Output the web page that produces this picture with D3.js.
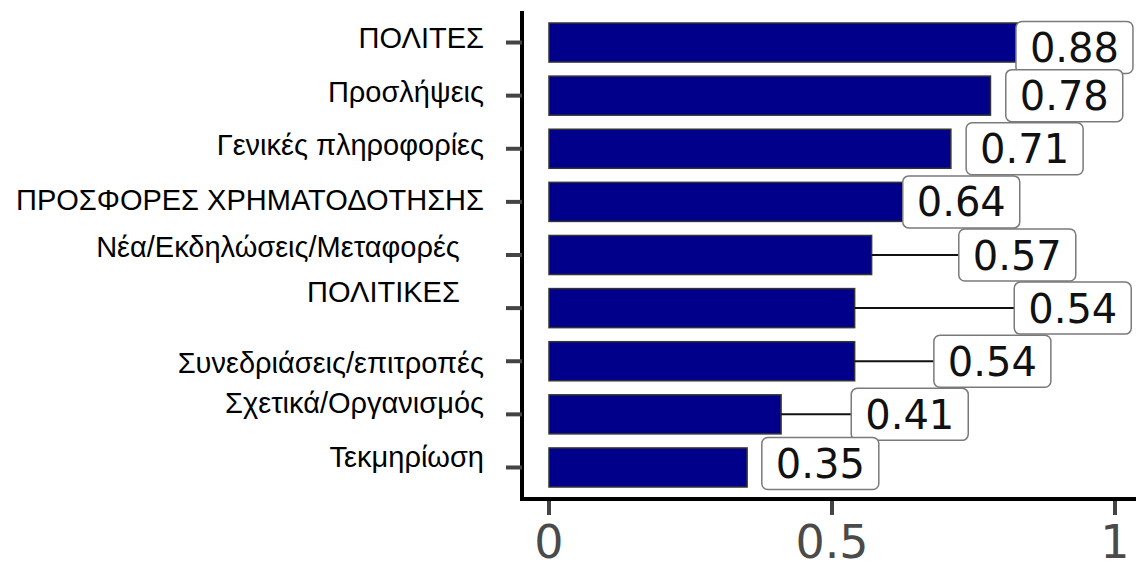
<!DOCTYPE html>
<html>
<head>
<meta charset="utf-8">
<script src="https://cdn.jsdelivr.net/npm/d3@7"></script>
<style>
  body { margin: 0; background: #fff; }
  svg { display: block; }
  .cat { font-family: "Liberation Sans", Arial, sans-serif; font-size: 29px; white-space: pre; }
  .val { font-family: "DejaVu Sans", sans-serif; font-size: 40px; }
  .tick-label { font-family: "DejaVu Sans", sans-serif; font-size: 46px; fill: #4a4a4a; }
</style>
</head>
<body>
<div id="chart"></div>
<script>
// data, top bar first
const categories = [
  "ΠΟΛΙΤΕΣ",
  "Προσλήψεις",
  "Γενικές πληροφορίες",
  "ΠΡΟΣΦΟΡΕΣ ΧΡΗΜΑΤΟΔΟΤΗΣΗΣ",
  "Νέα/Εκδηλώσεις/Μεταφορές   ",
  "ΠΟΛΙΤΙΚΕΣ   ",
  "Συνεδριάσεις/επιτροπές",
  "Σχετικά/Οργανισμός",
  "Τεκμηρίωση"
];
const values = [0.88, 0.78, 0.71, 0.64, 0.57, 0.54, 0.54, 0.41, 0.35];
const xTicks = [0, 0.5, 1];
const xTickLabels = ["0", "0.5", "1"];

// annotation layout (left edge of value box in data units, vertical nudge in px)
const boxLeft = [0.825, 0.807, 0.737, 0.625, 0.724, 0.822, 0.680, 0.534, 0.376];
const boxDy = [5, 0, 0, 0, 0, 0, 0, 0, -4];
// category label vertical nudge (baseline relative to tick)
const labelDy = [5, 6, 6, 8, 2, -6, 12, -1, 0];

const width = 1136, height = 569;
const svg = d3.select("#chart").append("svg")
  .attr("width", width)
  .attr("height", height);

const x = d3.scaleLinear().domain([0, 1]).range([549, 1115]);
const y = d3.scaleBand().domain(categories).range([23, 487]).paddingInner(0.265).paddingOuter(0);

const axisX = 522, axisY = 499;

// bars
svg.selectAll(".bar")
  .data(values)
  .enter().append("rect")
  .attr("class", "bar")
  .attr("x", x(0))
  .attr("y", (d, i) => y(categories[i]))
  .attr("width", d => x(d) - x(0))
  .attr("height", y.bandwidth())
  .attr("fill", "#00008b")
  .attr("stroke", "#333")
  .attr("stroke-width", 1.5);

// connector lines (only where box sits clear of the bar)
const boxW = 117, boxH = 52;
values.forEach((v, i) => {
  const cy = y(categories[i]) + y.bandwidth() / 2;
  const bx = x(boxLeft[i]);
  if (bx - x(v) > 20) {
    svg.append("line")
      .attr("x1", x(v)).attr("x2", bx)
      .attr("y1", cy).attr("y2", cy)
      .attr("stroke", "#111")
      .attr("stroke-width", 2);
  }
});

// value boxes
const boxes = svg.selectAll(".vbox")
  .data(values)
  .enter().append("g")
  .attr("class", "vbox")
  .attr("transform", (d, i) => {
    const cy = y(categories[i]) + y.bandwidth() / 2 + boxDy[i];
    return "translate(" + x(boxLeft[i]) + "," + (cy - boxH / 2) + ")";
  });
boxes.append("rect")
  .attr("width", boxW)
  .attr("height", boxH)
  .attr("rx", 6)
  .attr("fill", "#fff")
  .attr("stroke", "#7a7a7a")
  .attr("stroke-width", 1.5);
boxes.append("text")
  .attr("class", "val")
  .attr("x", boxW / 2)
  .attr("y", boxH / 2 + 14.5)
  .attr("text-anchor", "middle")
  .attr("fill", "#111")
  .text(d => d.toFixed(2));

// y axis
svg.append("line")
  .attr("x1", axisX).attr("x2", axisX)
  .attr("y1", 11).attr("y2", axisY + 2)
  .attr("stroke", "#000").attr("stroke-width", 4);
svg.selectAll(".ytick")
  .data(categories)
  .enter().append("line")
  .attr("class", "ytick")
  .attr("x1", 506).attr("x2", axisX)
  .attr("y1", d => y(d) + y.bandwidth() / 2)
  .attr("y2", d => y(d) + y.bandwidth() / 2)
  .attr("stroke", "#444").attr("stroke-width", 4);
svg.selectAll(".cat")
  .data(categories)
  .enter().append("text")
  .attr("class", "cat")
  .attr("x", 484)
  .attr("y", (d, i) => y(d) + y.bandwidth() / 2 + labelDy[i])
  .attr("text-anchor", "end")
  .attr("fill", "#000")
  .text(d => d);

// x axis
svg.append("line")
  .attr("x1", axisX - 2).attr("x2", width)
  .attr("y1", axisY).attr("y2", axisY)
  .attr("stroke", "#000").attr("stroke-width", 4);
svg.selectAll(".xtick")
  .data(xTicks)
  .enter().append("line")
  .attr("class", "xtick")
  .attr("x1", d => x(d)).attr("x2", d => x(d))
  .attr("y1", axisY + 2).attr("y2", 515)
  .attr("stroke", "#444").attr("stroke-width", 4);
svg.selectAll(".tick-label")
  .data(xTicks)
  .enter().append("text")
  .attr("class", "tick-label")
  .attr("x", d => x(d))
  .attr("y", 558)
  .attr("text-anchor", "middle")
  .text((d, i) => xTickLabels[i]);
</script>
</body>
</html>
